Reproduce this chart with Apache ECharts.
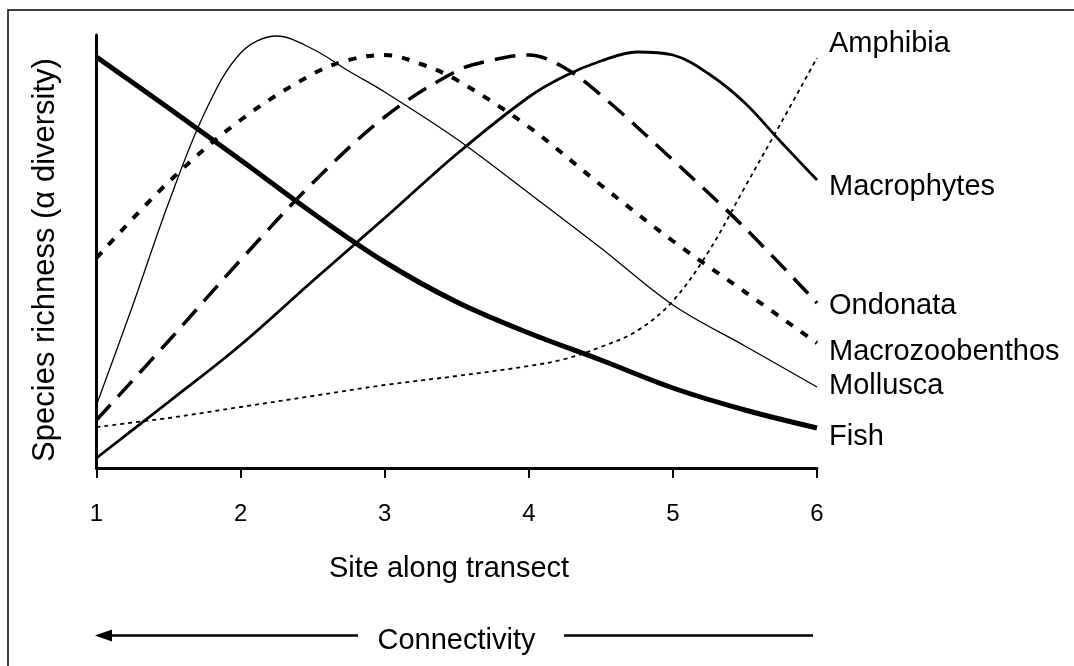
<!DOCTYPE html>
<html><head><meta charset="utf-8">
<script src="https://cdn.jsdelivr.net/npm/echarts@6/dist/echarts.min.js"></script>
<style>html,body{margin:0;padding:0;background:#fff}#c{width:1074px;height:666px}</style>
</head><body><div id="c"></div>
<script>
const FONT = "'Liberation Sans', Arial, Helvetica, sans-serif";

// Site along transect (x) and relative species richness (y, arbitrary units)
const xTicks = [1, 2, 3, 4, 5, 6];
const fishX = [1, 1.5, 2, 2.5, 3, 3.5, 4, 4.5, 5, 5.5, 6];
const fishY = [411, 360, 308, 255, 206, 166, 135, 108, 80, 58, 40];
const macrophytesX = [1, 1.5, 2, 2.5, 3, 3.5, 4, 4.25, 4.5, 4.75, 5, 5.25, 5.5, 5.75, 6];
const macrophytesY = [10, 66, 123, 187, 250, 314, 371, 392, 407, 416, 413, 394, 365, 326, 288];
const ondonataX = [1, 1.5, 2, 2.5, 3, 3.5, 3.75, 4, 4.25, 4.5, 5, 5.5, 6];
const ondonataY = [48, 127, 208, 285, 351, 397, 408, 413, 400, 373, 308, 240, 165];
const macrozoobenthosX = [1, 1.5, 2, 2.5, 2.75, 3, 3.25, 3.5, 4, 4.5, 5, 5.5, 6];
const macrozoobenthosY = [210, 286, 348, 394, 408, 413, 404, 388, 341, 283, 227, 176, 125];
const molluscaX = [1, 1.25, 1.5, 1.75, 2, 2.25, 2.5, 2.75, 3, 3.5, 4, 4.5, 5, 5.5, 6];
const molluscaY = [63, 162, 265, 355, 415, 432, 419, 397, 376, 329, 275, 220, 163, 122, 81];
const amphibiaX = [1, 1.5, 2, 2.5, 3, 3.5, 4, 4.25, 4.5, 4.75, 5, 5.25, 5.5, 5.75, 6];
const amphibiaY = [41, 50, 61, 72, 83, 92, 102, 109, 121, 137, 167, 217, 281, 345, 410];

const xTitle = 'Site along transect';
const yTitle = 'Species richness (α diversity)';
const arrowTitle = 'Connectivity';

function zip(xs, ys) { return xs.map((x, i) => [x, ys[i]]); }

function mkSeries(name, xs, ys, width, dash, dy) {
  return {
    name: name,
    type: 'line',
    data: zip(xs, ys),
    smooth: 0.35,
    symbol: 'none',
    lineStyle: { color: '#000', width: width, type: dash },
    markPoint: {
      symbol: 'circle', symbolSize: 0, silent: true,
      itemStyle: { color: 'rgba(0,0,0,0)' },
      label: {
        show: true, position: 'right', distance: 12, offset: [0, dy],
        formatter: name, fontSize: 29, fontFamily: FONT, color: '#000'
      },
      data: [{ coord: [xs[xs.length - 1], ys[ys.length - 1]] }]
    },
    z: 3
  };
}

const chart = echarts.init(document.getElementById('c'), null, { renderer: 'canvas' });
chart.setOption({
  animation: false,
  backgroundColor: '#fff',
  textStyle: { fontFamily: FONT },
  grid: { left: 96.5, right: 257, top: 35, bottom: 198, containLabel: false },
  xAxis: {
    type: 'value', min: xTicks[0], max: xTicks[xTicks.length - 1], interval: 1,
    axisLine: { show: true, lineStyle: { color: '#000', width: 3 } },
    axisTick: { show: true, length: 10, lineStyle: { color: '#000', width: 2 } },
    axisLabel: {
      fontSize: 24, fontFamily: FONT, color: '#000', margin: 34,
      formatter: '{t|{value}}',
      rich: { t: { fontSize: 24, fontFamily: FONT, color: '#000' } }
    },
    splitLine: { show: false }
  },
  yAxis: {
    type: 'value', min: 0, max: 433,
    axisLine: { show: true, lineStyle: { color: '#000', width: 3 } },
    axisTick: { show: false },
    axisLabel: { show: false },
    splitLine: { show: false }
  },
  series: [
    mkSeries('Amphibia', amphibiaX, amphibiaY, 1.8, [4, 4], -14),
    mkSeries('Macrophytes', macrophytesX, macrophytesY, 2.8, 'solid', 7),
    mkSeries('Ondonata', ondonataX, ondonataY, 3.5, [21, 11], 3),
    mkSeries('Macrozoobenthos', macrozoobenthosX, macrozoobenthosY, 4, [8, 10], 9),
    mkSeries('Mollusca', molluscaX, molluscaY, 1.3, 'solid', -1),
    mkSeries('Fish', fishX, fishY, 5, 'solid', 9)
  ],
  graphic: [
    { type: 'rect', shape: { x: 8, y: 10, width: 1100, height: 700 },
      style: { fill: 'none', stroke: '#000', lineWidth: 1.5 }, silent: true },
    { type: 'text', x: 45, y: 260, rotation: Math.PI / 2,
      style: { text: yTitle, font: '31px ' + FONT, fill: '#000', align: 'center', verticalAlign: 'middle' } },
    { type: 'text', x: 449, y: 569,
      style: { text: xTitle, font: '29px ' + FONT, fill: '#000', align: 'center', verticalAlign: 'middle' } },
    { type: 'text', x: 456.5, y: 641,
      style: { text: arrowTitle, font: '29px ' + FONT, fill: '#000', align: 'center', verticalAlign: 'middle' } },
    { type: 'line', shape: { x1: 358, y1: 635.5, x2: 104, y2: 635.5 },
      style: { stroke: '#000', lineWidth: 2.5 } },
    { type: 'polygon', shape: { points: [[95, 635.5], [112, 629.5], [112, 641.5]] },
      style: { fill: '#000' } },
    { type: 'line', shape: { x1: 564, y1: 635.5, x2: 813, y2: 635.5 },
      style: { stroke: '#000', lineWidth: 2.5 } }
  ]
});
</script></body></html>
